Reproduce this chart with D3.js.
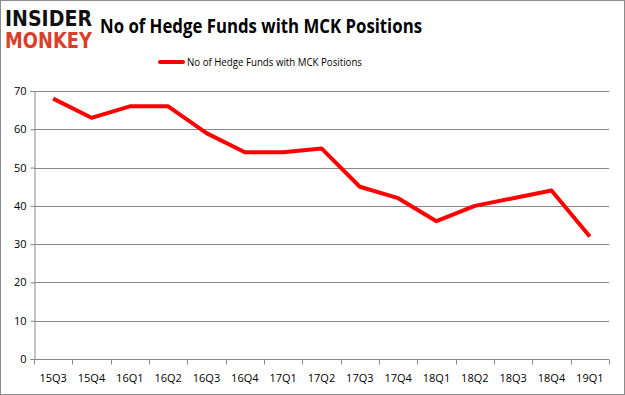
<!DOCTYPE html>
<html>
<head>
<meta charset="utf-8">
<script src="https://cdn.jsdelivr.net/npm/d3@7"></script>
<style>
  body { margin: 0; background: #fff; }
  svg text { font-family: "Open Sans", "DejaVu Sans", sans-serif; }
</style>
</head>
<body>
<div id="chart"></div>
<script>
const quarters = ['15Q3','15Q4','16Q1','16Q2','16Q3','16Q4','17Q1','17Q2','17Q3','17Q4','18Q1','18Q2','18Q3','18Q4','19Q1'];
const fundCounts = [68, 63, 66, 66, 59, 54, 54, 55, 45, 42, 36, 40, 42, 44, 32];
const yTicks = [0, 10, 20, 30, 40, 50, 60, 70];
const seriesName = 'No of Hedge Funds with MCK Positions';

const W = 625, H = 395;
const margin = {top: 91, right: 16, bottom: 36, left: 34};

const svg = d3.select('#chart').append('svg')
  .attr('width', W).attr('height', H);

svg.append('rect')
  .attr('x', 0.5).attr('y', 0.5)
  .attr('width', W - 1).attr('height', H - 1)
  .attr('fill', '#fff').attr('stroke', '#8c8c8c');

// logo
svg.append('text')
  .attr('x', 5).attr('y', 26)
  .attr('textLength', 87).attr('lengthAdjust', 'spacingAndGlyphs')
  .style('font-family', '"DejaVu Sans", sans-serif')
  .style('font-weight', 'bold').style('font-size', '21px')
  .attr('fill', '#111').text('INSIDER');
svg.append('text')
  .attr('x', 5).attr('y', 48)
  .attr('textLength', 87).attr('lengthAdjust', 'spacingAndGlyphs')
  .style('font-family', '"DejaVu Sans", sans-serif')
  .style('font-weight', 'bold').style('font-size', '21px')
  .attr('fill', '#d9402b').text('MONKEY');

svg.append('text')
  .attr('x', 100).attr('y', 33)
  .attr('textLength', 322).attr('lengthAdjust', 'spacingAndGlyphs')
  .style('font-weight', 'bold').style('font-size', '20px')
  .attr('fill', '#000').text(seriesName);

// legend
svg.append('line')
  .attr('x1', 160).attr('x2', 183).attr('y1', 62).attr('y2', 62)
  .attr('stroke', '#ff0000').attr('stroke-width', 4).attr('stroke-linecap', 'round');
svg.append('text')
  .attr('x', 187).attr('y', 66)
  .attr('textLength', 175).attr('lengthAdjust', 'spacingAndGlyphs')
  .style('font-size', '11px').attr('fill', '#000')
  .text(seriesName);

const x = d3.scaleBand().domain(quarters)
  .range([margin.left, W - margin.right]);
const y = d3.scaleLinear().domain([0, 70])
  .range([H - margin.bottom, margin.top]);

// gridlines
svg.append('g')
  .selectAll('line')
  .data(yTicks)
  .join('line')
    .attr('x1', margin.left).attr('x2', W - margin.right)
    .attr('y1', d => Math.round(y(d)) + 0.5).attr('y2', d => Math.round(y(d)) + 0.5)
    .attr('stroke', '#888').attr('stroke-width', 1);

// y axis
const yAxis = svg.append('g')
  .attr('transform', `translate(${margin.left + 0.5},0)`)
  .call(d3.axisLeft(y).tickValues(yTicks).tickSize(4).tickPadding(4));
yAxis.select('.domain').attr('stroke', '#888');
yAxis.selectAll('.tick line').attr('stroke', '#888');
yAxis.selectAll('.tick text').style('font-size', '11px').attr('fill', '#000');

// x axis ticks at band edges
const xAxisG = svg.append('g')
  .attr('transform', `translate(0,${Math.round(y(0)) + 0.5})`);
xAxisG.append('line')
  .attr('x1', margin.left).attr('x2', W - margin.right)
  .attr('stroke', '#888');
xAxisG.selectAll('line.edge')
  .data(quarters.concat(['end']))
  .join('line')
    .attr('class', 'edge')
    .attr('x1', (d, i) => Math.round(margin.left + i * x.step()) + 0.5)
    .attr('x2', (d, i) => Math.round(margin.left + i * x.step()) + 0.5)
    .attr('y1', 0).attr('y2', 5)
    .attr('stroke', '#888');
xAxisG.selectAll('text')
  .data(quarters)
  .join('text')
    .attr('x', d => x(d) + x.bandwidth() / 2)
    .attr('y', 22)
    .attr('text-anchor', 'middle')
    .style('font-size', '11px').attr('fill', '#000')
    .text(d => d);

// series line
const line = d3.line()
  .x((d, i) => x(quarters[i]) + x.bandwidth() / 2)
  .y(d => y(d));

svg.append('path')
  .datum(fundCounts)
  .attr('d', line)
  .attr('fill', 'none')
  .attr('stroke', '#ff0000')
  .attr('stroke-width', 4)
  .attr('stroke-linejoin', 'round');
</script>
</body>
</html>
